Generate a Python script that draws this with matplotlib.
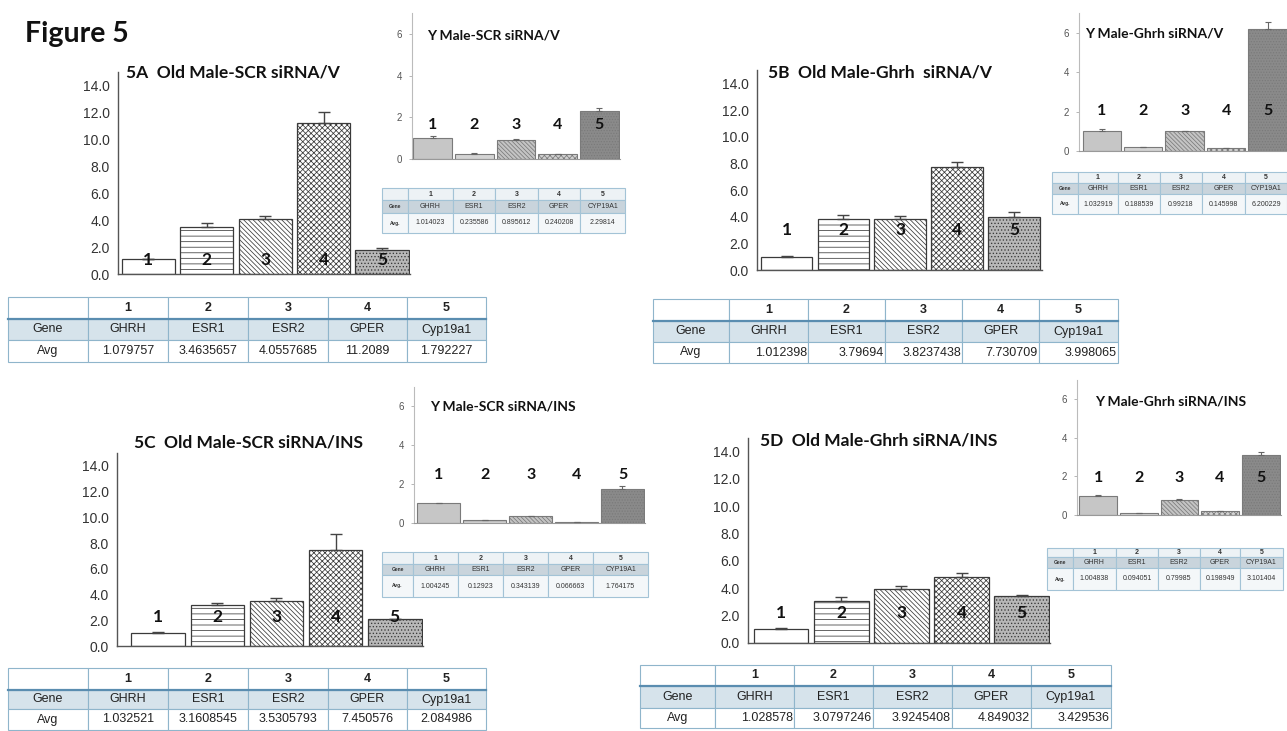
import matplotlib.pyplot as plt
from matplotlib.patches import Rectangle

plt.rcParams['font.family'] = ['Liberation Sans', 'DejaVu Sans']
plt.rcParams['hatch.linewidth'] = 0.55

W, H = 1287, 731

bar_ids = ['1', '2', '3', '4', '5']
genes_old = ['GHRH', 'ESR1', 'ESR2', 'GPER', 'Cyp19a1']
genes_young = ['GHRH', 'ESR1', 'ESR2', 'GPER', 'CYP19A1']

# old males (main panels)
old_scr_v = [1.079757, 3.4635657, 4.0557685, 11.2089, 1.792227]
old_scr_v_err = [0.05, 0.32, 0.25, 0.8, 0.15]
old_ghrh_v = [1.012398, 3.79694, 3.8237438, 7.730709, 3.998065]
old_ghrh_v_err = [0.05, 0.32, 0.25, 0.37, 0.35]
old_scr_ins = [1.032521, 3.1608545, 3.5305793, 7.450576, 2.084986]
old_scr_ins_err = [0.05, 0.2, 0.2, 1.25, 0.03]
old_ghrh_ins = [1.028578, 3.0797246, 3.9245408, 4.849032, 3.429536]
old_ghrh_ins_err = [0.05, 0.28, 0.23, 0.3, 0.07]

# young males (small panels)
young_scr_v = [1.014023, 0.235586, 0.895612, 0.240208, 2.29814]
young_scr_v_err = [0.07, 0.03, 0.05, 0.02, 0.15]
young_ghrh_v = [1.032919, 0.188539, 0.99218, 0.145998, 6.200229]
young_ghrh_v_err = [0.07, 0.03, 0.04, 0.02, 0.35]
young_scr_ins = [1.004245, 0.12923, 0.343139, 0.066663, 1.764175]
young_scr_ins_err = [0.04, 0.01, 0.02, 0.01, 0.12]
young_ghrh_ins = [1.004838, 0.094051, 0.79985, 0.198949, 3.101404]
young_ghrh_ins_err = [0.03, 0.01, 0.03, 0.02, 0.18]

main_styles = [('white', ''), ('white', '---'), ('white', '\\' * 7),
               ('white', 'x' * 6), ('#b8b8b8', '.' * 5)]
young_styles = [('#c6c6c6', ''), ('#d4d4d4', '--'), ('#c4c4c4', '\\' * 8),
                ('#d2d2d2', 'x' * 6), ('#8a8a8a', '.' * 6)]


def px_box(l, t, r, b):
    return [l / W, 1 - b / H, (r - l) / W, (b - t) / H]


fig = plt.figure(figsize=(W / 100, H / 100), dpi=100)

# title font for the panel headings
TF = dict(family=['Lato', 'DejaVu Sans'], fontweight='bold', color='#111')

main_panels = [
    ('5A  Old Male-SCR siRNA/V', old_scr_v, old_scr_v_err, 1.04,
     (118, 72, 410, 274), (-0.52, 4.48), (233, 72)),
    ('5B  Old Male-Ghrh  siRNA/V', old_ghrh_v, old_ghrh_v_err, 3.0,
     (757, 70, 1042, 270), (-0.52, 4.49), (880, 73)),
    ('5C  Old Male-SCR siRNA/INS', old_scr_ins, old_scr_ins_err, 2.24,
     (117, 453, 423, 646), (-0.70, 4.48), (249, 442)),
    ('5D  Old Male-Ghrh siRNA/INS', old_ghrh_ins, old_ghrh_ins_err, 2.2,
     (748, 438, 1050, 643), (-0.55, 4.47), (879, 440)),
]

young_panels = [
    ('Y Male-SCR siRNA/V', young_scr_v, young_scr_v_err, 1.64,
     (412, 13, 620, 159), (-0.50, 4.50), (427, 35)),
    ('Y Male-Ghrh siRNA/V', young_ghrh_v, young_ghrh_v_err, 2.03,
     (1079, 13, 1287, 151), (-0.55, 4.47), (1085, 33)),
    ('Y Male-SCR siRNA/INS', young_scr_ins, young_scr_ins_err, 2.46,
     (414, 387, 645, 523), (-0.54, 4.49), (430, 407)),
    ('Y Male-Ghrh siRNA/INS', young_ghrh_ins, young_ghrh_ins_err, 1.91,
     (1077, 380, 1281, 515), (-0.52, 4.50), (1095, 402)),
]

x = list(range(5))

for title, vals, errs, lab_y, box, xl, tpos in main_panels:
    ax = fig.add_axes(px_box(*box))
    ax.patch.set_alpha(0)
    for i, v in enumerate(vals):
        fc, hatch = main_styles[i]
        ax.bar(x[i], v, width=0.91, color=fc, hatch=hatch,
               edgecolor='#3a3a3a', linewidth=0.9, zorder=2)
    ax.errorbar(x, vals, yerr=[[0] * 5, errs], fmt='none', ecolor='#444',
                elinewidth=1, capsize=4, capthick=1, zorder=3)
    for i in x:
        ax.text(i, lab_y, bar_ids[i], ha='center', va='center', fontsize=12.5,
                zorder=4, **TF)
    ax.set_xlim(*xl)
    ax.set_ylim(0, 15)
    ax.set_yticks([0, 2, 4, 6, 8, 10, 12, 14])
    ax.set_yticklabels([f'{t:.1f}' for t in ax.get_yticks()])
    ax.set_xticks([])
    ax.tick_params(axis='y', length=0, pad=6, labelsize=10, labelcolor='#333')
    for s in ('top', 'right'):
        ax.spines[s].set_visible(False)
    for s in ('left', 'bottom'):
        ax.spines[s].set_color('#555')
        ax.spines[s].set_linewidth(1)
    fig.text(tpos[0] / W, 1 - tpos[1] / H, title, ha='center', va='center',
             fontsize=12.5, **TF)

for title, vals, errs, lab_y, box, xl, tpos in young_panels:
    ax = fig.add_axes(px_box(*box))
    ax.patch.set_alpha(0)
    for i, v in enumerate(vals):
        fc, hatch = young_styles[i]
        ax.bar(x[i], v, width=0.93, color=fc, hatch=hatch,
               edgecolor='#7a7a7a', linewidth=0.8, zorder=2)
    ax.errorbar(x, vals, yerr=[[0] * 5, errs], fmt='none', ecolor='#666',
                elinewidth=0.8, capsize=2, capthick=0.8, zorder=3)
    for i in x:
        ax.text(i, lab_y, bar_ids[i], ha='center', va='center', fontsize=11.5,
                zorder=4, **TF)
    ax.set_xlim(*xl)
    ax.set_ylim(0, 7)
    ax.set_yticks([0, 2, 4, 6])
    ax.set_xticks([])
    ax.tick_params(axis='y', length=2, width=0.6, color='#aaa', pad=5,
                   labelsize=7, labelcolor='#555')
    for s in ('top', 'right'):
        ax.spines[s].set_visible(False)
    ax.spines['left'].set_color('#bbbbbb')
    ax.spines['bottom'].set_color('#999999')
    ax.spines['left'].set_linewidth(0.8)
    ax.spines['bottom'].set_linewidth(0.8)
    fig.text(tpos[0] / W, 1 - tpos[1] / H, title, ha='left', va='center',
             fontsize=10, **TF)

fig.text(25 / W, 1 - 34 / H, 'Figure 5', ha='left', va='center', fontsize=20.5, **TF)

# overlay in pixel coordinates for the value tables
ov = fig.add_axes([0, 0, 1, 1])
ov.set_xlim(0, W)
ov.set_ylim(H, 0)
ov.axis('off')


def draw_table(cols, rows, genes, vals, first, fills, edge, fs, hfs,
               thick=None, align='center', tcolor='#222'):
    cells = [[''] + bar_ids, [first[0]] + genes, [first[1]] + [str(v) for v in vals]]
    for r in range(3):
        for c in range(6):
            x0, x1 = cols[c], cols[c + 1]
            y0, y1 = rows[r], rows[r + 1]
            ov.add_patch(Rectangle((x0, y0), x1 - x0, y1 - y0, facecolor=fills[r],
                                   edgecolor=edge, linewidth=0.8))
            txt = cells[r][c]
            bold = r == 0 or c == 0 and fs < 7
            size = hfs if (c == 0 and fs < 7) else fs
            if r == 2 and c > 0 and align == 'right':
                ov.text(x1 - 1, (y0 + y1) / 2, txt, ha='right', va='center',
                        fontsize=size, color=tcolor)
            else:
                ov.text((x0 + x1) / 2, (y0 + y1) / 2, txt, ha='center',
                        va='center', fontsize=size, color=tcolor,
                        fontweight='bold' if bold else 'normal')
    if thick:
        ov.plot([cols[0], cols[-1]], [rows[1], rows[1]], color=thick, lw=1.6)


main_fill = ['white', '#d6e3eb', 'white']
young_fill = ['#edf2f5', '#c9d4dc', '#f4f7f9']

draw_table([8, 88, 168, 248, 328, 407, 486], [297, 319, 340, 362],
           genes_old, old_scr_v, ('Gene', 'Avg'), main_fill, '#8fb5cb', 9, 9,
           thick='#5a8db0')
draw_table([653, 729, 808, 885, 962, 1039, 1118], [299, 321, 342, 363],
           genes_old, old_ghrh_v, ('Gene', 'Avg'), main_fill, '#8fb5cb', 9, 9,
           thick='#5a8db0', align='right')
draw_table([8, 88, 168, 248, 328, 407, 486], [668, 690, 709, 730],
           genes_old, old_scr_ins, ('Gene', 'Avg'), main_fill, '#8fb5cb', 9, 9,
           thick='#5a8db0')
draw_table([640, 715, 794, 873, 952, 1031, 1111], [665, 686, 708, 728],
           genes_old, old_ghrh_ins, ('Gene', 'Avg'), main_fill, '#8fb5cb', 9, 9,
           thick='#5a8db0', align='right')

draw_table([382, 408, 453, 495, 538, 580, 625], [188, 200, 213, 233],
           genes_young, young_scr_v, ('Gene', 'Avg.'), young_fill, '#a3c3d6',
           5, 3.5, tcolor='#333')
draw_table([1052, 1078, 1118, 1160, 1202, 1245, 1287], [172, 183, 194, 214],
           genes_young, young_ghrh_v, ('Gene', 'Avg.'), young_fill, '#a3c3d6',
           5, 3.5, tcolor='#333')
draw_table([382, 413, 458, 503, 548, 593, 648], [552, 564, 575, 597],
           genes_young, young_scr_ins, ('Gene', 'Avg.'), young_fill, '#a3c3d6',
           5, 3.5, tcolor='#333')
draw_table([1047, 1073, 1116, 1158, 1200, 1240, 1283], [548, 557, 568, 590],
           genes_young, young_ghrh_ins, ('Gene', 'Avg.'), young_fill, '#a3c3d6',
           5, 3.5, tcolor='#333')

fig.savefig('out.png', dpi=100)
